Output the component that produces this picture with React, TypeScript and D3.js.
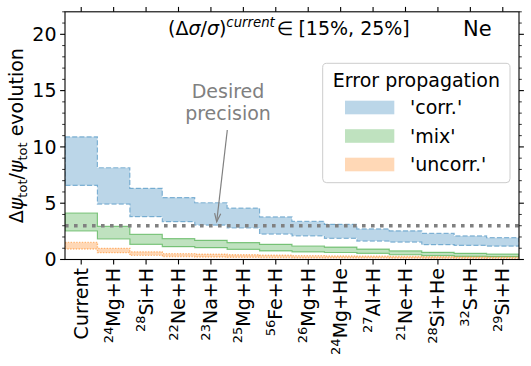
import React from "react";
import * as d3 from "d3";

const categories = [
  { sup: "", base: "Current" },
  { sup: "24", base: "Mg+H" },
  { sup: "28", base: "Si+H" },
  { sup: "22", base: "Ne+H" },
  { sup: "23", base: "Na+H" },
  { sup: "25", base: "Mg+H" },
  { sup: "56", base: "Fe+H" },
  { sup: "26", base: "Mg+H" },
  { sup: "24", base: "Mg+He" },
  { sup: "27", base: "Al+H" },
  { sup: "21", base: "Ne+H" },
  { sup: "28", base: "Si+He" },
  { sup: "32", base: "S+H" },
  { sup: "29", base: "Si+H" },
];

const corrHigh = [10.9, 8.15, 6.32, 5.5, 5.04, 4.56, 3.78, 3.38, 3.12, 2.72, 2.55, 2.32, 2.09, 1.94];
const corrLow = [6.58, 4.92, 3.8, 3.36, 3.06, 2.8, 2.26, 2.1, 1.88, 1.64, 1.55, 1.32, 1.25, 1.18];
const mixHigh = [4.13, 2.94, 2.23, 1.85, 1.7, 1.5, 1.35, 1.2, 1.1, 0.93, 0.76, 0.64, 0.55, 0.47];
const mixLow = [2.53, 1.82, 1.35, 1.14, 1.05, 0.9, 0.76, 0.68, 0.62, 0.55, 0.42, 0.35, 0.28, 0.25];
const uncorrHigh = [1.52, 0.99, 0.68, 0.52, 0.46, 0.42, 0.38, 0.34, 0.31, 0.29, 0.27, 0.25, 0.23, 0.21];
const uncorrLow = [0.93, 0.61, 0.37, 0.26, 0.22, 0.2, 0.18, 0.16, 0.15, 0.14, 0.13, 0.12, 0.11, 0.1];

const desiredPrecision = 3;
const yTicks = [0, 5, 10, 15, 20];
const yMax = 22;
const legendTitle = "Error propagation";
const legendLabels = ["'corr.'", "'mix'", "'uncorr.'"];

const FONT = "DejaVu Sans, sans-serif";

export default function App() {
  const W = 531, H = 366;
  const L = 65, R = 519, T = 11.8, B = 259.5;
  const n = categories.length;
  const x = d3.scaleLinear().domain([-0.5, n - 0.5]).range([L, R]);
  const y = d3.scaleLinear().domain([0, yMax]).range([B, T]);

  type P = { x: number; hi: number; lo: number };
  const band = (hi: number[], lo: number[]) => {
    const pts: P[] = hi.map((h, i) => ({ x: i - 0.5, hi: h, lo: lo[i] }));
    pts.push({ x: n - 0.5, hi: hi[n - 1], lo: lo[n - 1] });
    return d3
      .area<P>()
      .x((d) => x(d.x))
      .y0((d) => y(d.lo))
      .y1((d) => y(d.hi))
      .curve(d3.curveStepAfter)(pts) as string;
  };

  const bands = [
    { hi: corrHigh, lo: corrLow, fill: "#1f77b4", stroke: "#1f77b4", dash: "5 2.2", sw: 1.2, so: 0.5 },
    { hi: mixHigh, lo: mixLow, fill: "#2ca02c", stroke: "#2ca02c", dash: "", sw: 1.2, so: 0.55 },
    { hi: uncorrHigh, lo: uncorrLow, fill: "#ff7f0e", stroke: "#ff7f0e", dash: "1.4 1.4", sw: 1.4, so: 0.5 },
  ];

  const minor = d3.range(0, yMax + 0.001, 1).filter((v) => v % 5 !== 0);

  // arrow
  const ax0 = 227.3, ay0 = 130;
  const ax1 = 216.7, ay1 = y(3.35);
  const ang = Math.atan2(ay1 - ay0, ax1 - ax0);
  const hl = 9, hw = 0.35;
  const h1 = [ax1 - hl * Math.cos(ang - hw), ay1 - hl * Math.sin(ang - hw)];
  const h2 = [ax1 - hl * Math.cos(ang + hw), ay1 - hl * Math.sin(ang + hw)];

  const legColors = ["#1f77b4", "#2ca02c", "#ff7f0e"];

  return (
    <svg width={W} height={H} style={{ position: "absolute", left: 0, top: 0, background: "#fff" }} fontFamily={FONT}>
      <rect x={0} y={0} width={W} height={H} fill="#fff" />
      <defs>
        <clipPath id="plot">
          <rect x={L} y={T} width={R - L} height={B - T} />
        </clipPath>
      </defs>
      <g clipPath="url(#plot)">
        {bands.map((b, i) => (
          <path
            key={i}
            d={band(b.hi, b.lo)}
            fill={b.fill}
            fillOpacity={0.3}
            stroke={b.stroke}
            strokeOpacity={b.so}
            strokeWidth={b.sw}
            strokeDasharray={b.dash || undefined}
          />
        ))}
        <line
          x1={L}
          x2={R}
          y1={y(desiredPrecision)}
          y2={y(desiredPrecision)}
          stroke="#808080"
          strokeWidth={3.6}
          strokeDasharray="3.6 5.4"
        />
      </g>

      {/* arrow annotation */}
      <line x1={ax0} y1={ay0} x2={ax1} y2={ay1} stroke="#808080" strokeWidth={1.2} />
      <polyline points={`${h1[0]},${h1[1]} ${ax1},${ay1} ${h2[0]},${h2[1]}`} fill="none" stroke="#808080" strokeWidth={1.2} />
      <text x={228} y={98} textAnchor="middle" fontSize={19} fill="#808080">Desired</text>
      <text x={228} y={120} textAnchor="middle" fontSize={19} fill="#808080">precision</text>

      {/* frame */}
      <rect x={L} y={T} width={R - L} height={B - T} fill="none" stroke="#000" strokeWidth={1.1} />

      {/* y ticks left and right */}
      {yTicks.map((v) => (
        <g key={"yt" + v}>
          <line x1={L - 4.9} x2={L} y1={y(v)} y2={y(v)} stroke="#000" strokeWidth={1.1} />
          <line x1={R} x2={R + 4.9} y1={y(v)} y2={y(v)} stroke="#000" strokeWidth={1.1} />
          <text x={L - 8.5} y={y(v)} dy="0.36em" textAnchor="end" fontSize={19} fill="#000">
            {v}
          </text>
        </g>
      ))}
      {minor.map((v) => (
        <g key={"ym" + v}>
          <line x1={L - 2.8} x2={L} y1={y(v)} y2={y(v)} stroke="#000" strokeWidth={0.8} />
          <line x1={R} x2={R + 2.8} y1={y(v)} y2={y(v)} stroke="#000" strokeWidth={0.8} />
        </g>
      ))}

      {/* x ticks bottom and top */}
      {categories.map((c, i) => (
        <g key={"xt" + i}>
          <line x1={x(i)} x2={x(i)} y1={B} y2={B + 4.9} stroke="#000" strokeWidth={1.1} />
          <line x1={x(i)} x2={x(i)} y1={T} y2={T - 4.9} stroke="#000" strokeWidth={1.1} />
          <text
            transform={`translate(${x(i) + 6.5},${B + 8.5}) rotate(-90)`}
            textAnchor="end"
            fontSize={19}
            fill="#000"
          >
            {c.sup ? (
              <>
                <tspan fontSize={13} dy={-7.5}>{c.sup}</tspan>
                <tspan dy={7.5}>{c.base}</tspan>
              </>
            ) : (
              c.base
            )}
          </text>
        </g>
      ))}

      {/* y label */}
      <text transform={`translate(23,${(T + B) / 2}) rotate(-90)`} textAnchor="middle" fontSize={19} fill="#000">
        Δ<tspan fontStyle="italic">ψ</tspan>
        <tspan fontSize={13} dy={4}>tot</tspan>
        <tspan dy={-4}>/</tspan>
        <tspan fontStyle="italic">ψ</tspan>
        <tspan fontSize={13} dy={4}>tot</tspan>
        <tspan dy={-4}> evolution</tspan>
      </text>

      {/* header annotation */}
      <text x={168} y={34.5} fontSize={19} fill="#000">
        (Δ<tspan fontStyle="italic">σ</tspan>/<tspan fontStyle="italic">σ</tspan>)
        <tspan fontSize={13.3} fontStyle="italic" dy={-8}>current</tspan>
        <tspan dy={8} dx={2}>∈</tspan>
        <tspan dx={5}>[15%, 25%]</tspan>
      </text>
      <text x={463} y={36} fontSize={21} fill="#000">Ne</text>

      {/* legend */}
      <rect x={322.7} y={63.3} width={187.3} height={119.4} rx={4} ry={4} fill="#fff" fillOpacity={0.8} stroke="#cccccc" strokeWidth={1} />
      <text x={416.4} y={87} textAnchor="middle" fontSize={19} fill="#000">{legendTitle}</text>
      {legendLabels.map((lab, i) => {
        const cy = 107.5 + i * 28.5;
        return (
          <g key={"lg" + i}>
            <rect x={345} y={cy - 6.8} width={49.3} height={13.6} fill={legColors[i]} fillOpacity={0.3} />
            <text x={410} y={cy} dy="0.36em" fontSize={19} fill="#000">{lab}</text>
          </g>
        );
      })}
    </svg>
  );
}
